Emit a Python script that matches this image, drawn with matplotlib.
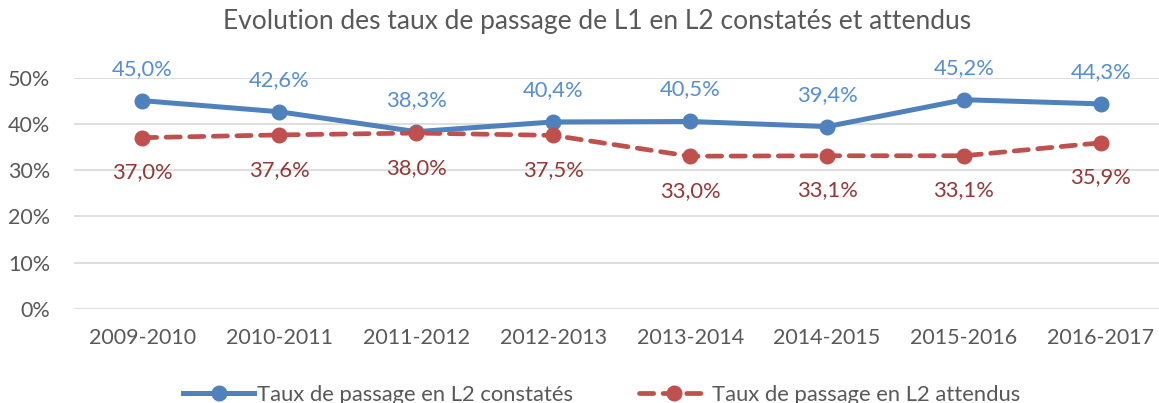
import numpy as np
import matplotlib.pyplot as plt

years = ['2009-2010', '2010-2011', '2011-2012', '2012-2013',
         '2013-2014', '2014-2015', '2015-2016', '2016-2017']
constates = [45.0, 42.6, 38.3, 40.4, 40.5, 39.4, 45.2, 44.3]
attendus = [37.0, 37.6, 38.0, 37.5, 33.0, 33.1, 33.1, 35.9]
yticks = [0, 10, 20, 30, 40, 50]

plt.rcParams['font.family'] = ['Lato', 'DejaVu Sans']

W, H = 1159, 403
fig = plt.figure(figsize=(W / 100, H / 100), dpi=100)
ax = fig.add_axes([74 / W, (H - 309) / H, (W - 74) / W, (309 - 77.5) / H])

x = np.arange(len(years))
blue = '#4F81BD'
red = '#C0504D'

ax.plot(x, constates, color=blue, lw=3.6, marker='o', ms=10.5,
        label='Taux de passage en L2 constatés', zorder=3, clip_on=False)
ax.plot(x, attendus, color=red, lw=3.4, ls=(0, (3, 2)), dash_capstyle='round',
        marker='o', ms=10.5, label='Taux de passage en L2 attendus', zorder=3, clip_on=False)

for xi, v in zip(x, constates):
    ax.annotate(f'{v:.1f}%'.replace('.', ','), (xi, v), xytext=(0, 23), textcoords='offset points',
                ha='center', va='center', color='#558ED5', fontsize=15.8)
for xi, v in zip(x, attendus):
    ax.annotate(f'{v:.1f}%'.replace('.', ','), (xi, v), xytext=(0, -25), textcoords='offset points',
                ha='center', va='center', color='#953735', fontsize=15.8)

ax.set_xlim(-0.5, (W - 143) / 136.85)
ax.set_ylim(0, 50)
ax.set_yticks(yticks)
ax.set_yticklabels([f'{t}%' for t in yticks])
ax.set_xticks(x)
ax.set_xticklabels(years)
ax.tick_params(length=0, labelsize=15.5, labelcolor='#595959')
ax.tick_params(axis='y', pad=17)
ax.tick_params(axis='x', pad=14)
ax.grid(axis='y', color='#D9D9D9', lw=1.2)
ax.set_axisbelow(True)
for s in ax.spines.values():
    s.set_visible(False)

fig.text(0.515, 1 - 22 / H, 'Evolution des taux de passage de L1 en L2 constatés et attendus',
         ha='center', va='center', fontsize=19, color='#595959')

fig.legend(loc='center', bbox_to_anchor=(602 / W, 1 - 395 / H), ncol=2, frameon=False,
           fontsize=15.8, labelcolor='#595959', handlelength=3.2, columnspacing=3.0,
           handletextpad=0.15)

fig.savefig('out.png', dpi=100)
